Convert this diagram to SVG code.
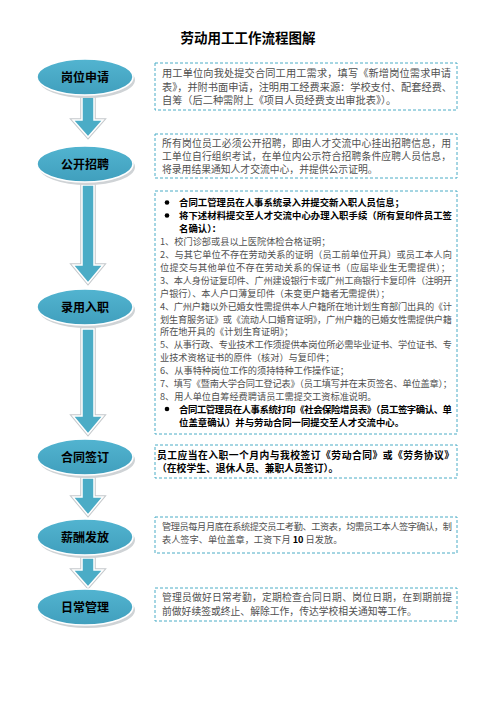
<svg xmlns="http://www.w3.org/2000/svg" width="496" height="702" viewBox="0 0 496 702">
<style>
.title{font-family:"Noto Sans CJK SC","Liberation Sans",sans-serif;font-size:13.5px;font-weight:bold;fill:#000;}
.node-label{font-family:"Noto Sans CJK SC","Liberation Sans",sans-serif;font-size:12px;font-weight:bold;fill:#000;text-anchor:middle;}
.box{fill:#fff;stroke:#4bacc6;stroke-width:1;stroke-dasharray:3 2;}
.t{font-family:"Noto Sans CJK SC","Liberation Sans",sans-serif;font-size:10.2px;fill:#505050;}
.t2{font-family:"Noto Sans CJK SC","Liberation Sans",sans-serif;font-size:9.8px;fill:#505050;}
.s{font-family:"Noto Sans CJK SC","Liberation Sans",sans-serif;font-size:9.2px;fill:#505050;}
.b{font-family:"Noto Sans CJK SC","Liberation Sans",sans-serif;font-size:9.4px;font-weight:bold;fill:#000;}
.bb{font-family:"Noto Sans CJK SC","Liberation Sans",sans-serif;font-size:9.8px;font-weight:bold;fill:#000;}
.shadow{fill:#cfd3d6;}
.ell{fill:url(#eg);stroke:#fff;stroke-width:1.5;}
.arr-out{fill:none;stroke:#c4c8cb;stroke-width:3.5;stroke-linejoin:miter;}
.arr{fill:#4bacc6;stroke:#fff;stroke-width:1.5;stroke-linejoin:miter;}
</style>
<defs>
<linearGradient id="eg" x1="0" y1="0" x2="0" y2="1">
<stop offset="0" stop-color="#52b4d0"/>
<stop offset="1" stop-color="#409fbd"/>
</linearGradient>
</defs>
<rect x="0" y="0" width="496" height="702" fill="#fff"/>
<text class="title" x="248" y="43" text-anchor="middle">劳动用工工作流程图解</text>

<g id="connectors">
<polygon class="arr-out" points="82,97 94,97 94,120 103,120 88,137 73,120 82,120"/>
<polygon class="arr" points="82,97 94,97 94,120 103,120 88,137 73,120 82,120"/>
<polygon class="arr-out" points="82,185 94,185 94,265 103,265 88,283 73,265 82,265"/>
<polygon class="arr" points="82,185 94,185 94,265 103,265 88,283 73,265 82,265"/>
<polygon class="arr-out" points="82,329 94,329 94,416 103,416 88,434 73,416 82,416"/>
<polygon class="arr" points="82,329 94,329 94,416 103,416 88,434 73,416 82,416"/>
<polygon class="arr-out" points="82,478 94,478 94,497 103,497 88,515 73,497 82,497"/>
<polygon class="arr" points="82,478 94,478 94,497 103,497 88,515 73,497 82,497"/>
<polygon class="arr-out" points="82,558 94,558 94,570 103,570 88,587 73,570 82,570"/>
<polygon class="arr" points="82,558 94,558 94,570 103,570 88,587 73,570 82,570"/>
</g>

<g id="node-gangwei">
<ellipse class="shadow" cx="87" cy="80" rx="48" ry="18"/>
<ellipse class="ell" cx="85" cy="77" rx="48" ry="18"/>
<text class="node-label" x="85" y="81.5">岗位申请</text>
</g>
<g id="node-zhaopin">
<ellipse class="shadow" cx="87" cy="167" rx="48" ry="18"/>
<ellipse class="ell" cx="85" cy="164" rx="48" ry="18"/>
<text class="node-label" x="85" y="168.5">公开招聘</text>
</g>
<g id="node-luyong">
<ellipse class="shadow" cx="87" cy="310" rx="48" ry="18"/>
<ellipse class="ell" cx="85" cy="307" rx="48" ry="18"/>
<text class="node-label" x="85" y="311.5">录用入职</text>
</g>
<g id="node-hetong">
<ellipse class="shadow" cx="87" cy="460" rx="48" ry="18"/>
<ellipse class="ell" cx="85" cy="457" rx="48" ry="18"/>
<text class="node-label" x="85" y="461.5">合同签订</text>
</g>
<g id="node-xinchou">
<ellipse class="shadow" cx="87" cy="540" rx="48" ry="18"/>
<ellipse class="ell" cx="85" cy="537" rx="48" ry="18"/>
<text class="node-label" x="85" y="541.5">薪酬发放</text>
</g>
<g id="node-richang">
<ellipse class="shadow" cx="87" cy="610" rx="48" ry="18"/>
<ellipse class="ell" cx="85" cy="607" rx="48" ry="18"/>
<text class="node-label" x="85" y="611.5">日常管理</text>
</g>

<g id="box-gangwei">
<rect class="box" x="155" y="63" width="302" height="47"/>
<text class="t" x="162" y="77" textLength="289" lengthAdjust="spacing">用工单位向我处提交合同工用工需求，填写《新增岗位需求申请</text>
<text class="t" x="162" y="90.5" textLength="290" lengthAdjust="spacing">表》，并附书面申请，注明用工经费来源：学校支付、配套经费、</text>
<text class="t" x="162" y="104">自筹（后二种需附上《项目人员经费支出审批表》）。</text>
</g>

<g id="box-zhaopin">
<rect class="box" x="155" y="134" width="302" height="44"/>
<text class="t2" x="162" y="146.5" textLength="289" lengthAdjust="spacing">所有岗位员工必须公开招聘，即由人才交流中心挂出招聘信息，用</text>
<text class="t2" x="162" y="159.5" textLength="289" lengthAdjust="spacing">工单位自行组织考试，在单位内公示符合招聘条件应聘人员信息，</text>
<text class="t2" x="162" y="172.5">将录用结果通知人才交流中心，并提供公示证明。</text>
</g>

<g id="box-luyong">
<rect class="box" x="155" y="191" width="302" height="243"/>
<circle cx="167" cy="202.5" r="2.3" fill="#000"/>
<text class="b" x="179" y="206">合同工管理员在人事系统录入并提交新入职人员信息；</text>
<circle cx="167" cy="215.5" r="2.3" fill="#000"/>
<text class="b" x="179" y="219" textLength="273" lengthAdjust="spacing">将下述材料提交至人才交流中心办理入职手续（所有复印件员工签</text>
<text class="b" x="179" y="232">名确认）：</text>
<text class="s" x="160" y="245">1、校门诊部或县以上医院体检合格证明；</text>
<text class="s" x="160" y="258" textLength="292" lengthAdjust="spacing">2、与其它单位不存在劳动关系的证明（员工前单位开具）或员工本人向</text>
<text class="s" x="160" y="270.5" textLength="290" lengthAdjust="spacing">位提交与其他单位不存在劳动关系的保证书（应届毕业生无需提供）；</text>
<text class="s" x="160" y="283.5" textLength="292" lengthAdjust="spacing">3、本人身份证复印件、广州建设银行卡或广州工商银行卡复印件（注明开</text>
<text class="s" x="160" y="296.5">户银行）、本人户口薄复印件（未变更户籍者无需提供）；</text>
<text class="s" x="160" y="309.5" textLength="292" lengthAdjust="spacing">4、广州户籍以外已婚女性需提供本人户籍所在地计划生育部门出具的《计</text>
<text class="s" x="160" y="322.5" textLength="292" lengthAdjust="spacing">划生育服务证》或《流动人口婚育证明》，广州户籍的已婚女性需提供户籍</text>
<text class="s" x="160" y="335">所在地开具的《计划生育证明》；</text>
<text class="s" x="160" y="348" textLength="292" lengthAdjust="spacing">5、从事行政、专业技术工作须提供本岗位所必需毕业证书、学位证书、专</text>
<text class="s" x="160" y="361">业技术资格证书的原件（核对）与复印件；</text>
<text class="s" x="160" y="374">6、从事特种岗位工作的须持特种工作操作证；</text>
<text class="s" x="160" y="387" textLength="292" lengthAdjust="spacing">7、填写《暨南大学合同工登记表》（员工填写并在末页签名、单位盖章）；</text>
<text class="s" x="160" y="399.5">8、用人单位自筹经费聘请员工需提交工资标准说明。</text>
<circle cx="167" cy="409" r="2.3" fill="#000"/>
<text class="b" x="179" y="412.5" textLength="273" lengthAdjust="spacing">合同工管理员在人事系统打印《社会保险增员表》（员工签字确认、单</text>
<text class="b" x="179" y="425.5">位盖章确认）并与劳动合同一同提交至人才交流中心。</text>
</g>

<g id="box-hetong">
<rect class="box" x="155" y="445" width="302" height="33"/>
<text class="bb" x="157" y="458.5" textLength="297" lengthAdjust="spacing">员工应当在入职一个月内与我校签订《劳动合同》或《劳务协议》</text>
<text class="bb" x="157" y="472">（在校学生、退休人员、兼职人员签订）。</text>
</g>

<g id="box-xinchou">
<rect class="box" x="155" y="517" width="302" height="36"/>
<text class="s" x="162" y="529.5" textLength="290" lengthAdjust="spacing">管理员每月月底在系统提交员工考勤、工资表，均需员工本人签字确认，制</text>
<text class="s" x="162" y="542.5">表人签字、单位盖章，工资下月 <tspan font-weight="bold" fill="#000">10</tspan> 日发放。</text>
</g>

<g id="box-richang">
<rect class="box" x="155" y="588" width="302" height="33"/>
<text class="t2" x="162" y="601" textLength="290" lengthAdjust="spacing">管理员做好日常考勤，定期检查合同日期、岗位日期，在到期前提</text>
<text class="t2" x="162" y="614.5">前做好续签或终止、解除工作，传达学校相关通知等工作。</text>
</g>
</svg>
